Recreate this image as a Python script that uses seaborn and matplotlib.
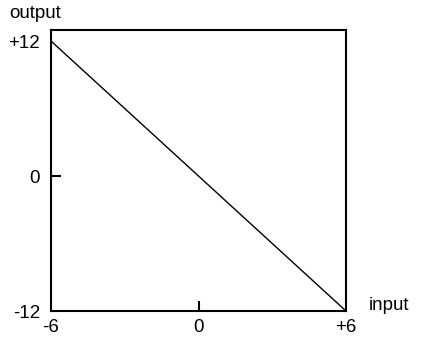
import matplotlib
matplotlib.use("Agg")
import matplotlib.pyplot as plt
import seaborn as sns
import pandas as pd

# Linear transfer: output = -2 * input over the range -6..+6
inputs = [-6, 6]
outputs = [12, -12]

x_ticks = [-6, 0, 6]
x_tick_labels = ["-6", "0", "+6"]
y_ticks = [-12, 0, 12]
y_tick_labels = ["-12", "0", "+12"]

sns.set_theme(style="white")
plt.rcParams["font.family"] = ["Liberation Sans", "DejaVu Sans"]
plt.rcParams["text.color"] = "black"

df = pd.DataFrame({"input": inputs, "output": outputs})

fig = plt.figure(figsize=(4.21, 3.40), dpi=100)
ax = fig.add_axes([51 / 421, 1 - 311 / 340, 295 / 421, 281 / 340])

sns.lineplot(data=df, x="input", y="output", ax=ax, color="black", linewidth=1.0)

ax.set_xlim(-6, 6)
ax.set_ylim(-12, 12.98)

ax.set_xticks(x_ticks)
ax.set_xticklabels(x_tick_labels)
ax.set_yticks(y_ticks)
ax.set_yticklabels(y_tick_labels)
ax.tick_params(axis="both", which="major", length=0, labelsize=13.5,
               colors="black", labelcolor="black")
ax.tick_params(axis="x", pad=6)
ax.tick_params(axis="y", pad=8)

# Short inward tick marks at the origin only
ax.xaxis.remove_overlapping_locs = False
ax.yaxis.remove_overlapping_locs = False
ax.set_xticks([0], minor=True)
ax.set_yticks([0], minor=True)
ax.tick_params(which="minor", direction="in", length=7, width=1.5, color="black",
               bottom=True, left=True)

for s in ax.spines.values():
    s.set_color("black")
    s.set_linewidth(1.5)

ax.set_xlabel("")
ax.set_ylabel("")
fig.text(9 / 421, 1 - 13 / 340, "output", fontsize=13.5, color="black",
         ha="left", va="center")
fig.text(369 / 421, 1 - 305 / 340, "input", fontsize=13.5, color="black",
         ha="left", va="center")

fig.savefig("out.png", dpi=100, facecolor="white")
